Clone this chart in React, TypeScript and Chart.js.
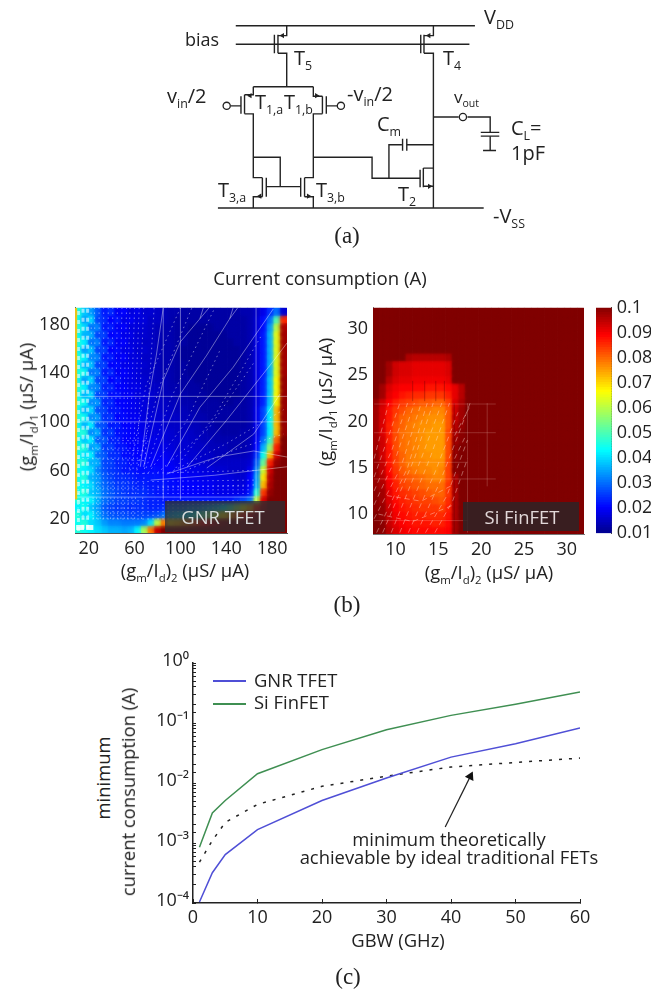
import React, { useEffect, useRef } from "react";
import Chart from "chart.js/auto";

// ---------- panel (c): minimum current consumption vs GBW ----------
const gbwGHz = [1, 3, 5, 10, 20, 30, 40, 50, 60];
const gnrCurrent = [1.04e-4, 3.2e-4, 6.4e-4, 1.67e-3, 5.1e-3, 1.21e-2, 2.7e-2, 4.5e-2, 8.3e-2];
const finfetCurrent = [8.5e-4, 3.16e-3, 5.1e-3, 1.43e-2, 3.6e-2, 7.7e-2, 0.134, 0.205, 0.329];
const idealCurrent = [4.8e-4, 1.1e-3, 2.2e-3, 4.4e-3, 8.8e-3, 1.3e-2, 1.85e-2, 2.2e-2, 2.6e-2];
const gbwTicks = [0, 10, 20, 30, 40, 50, 60];
const powerLabels: Record<string, string> = { "0": "10⁰", "-1": "10⁻¹", "-2": "10⁻²", "-3": "10⁻³", "-4": "10⁻⁴" };
const arrowLine = [{ x: 39.1, y: 1.85e-3 }, { x: 43, y: 1.29e-2 }];

// ---------- panel (b): heat maps, values in mA (columns left to right, rows top to bottom) ----------
const gnrRows = [
  [46,38,34,28,22,24,19,20,17,18,16,16,15,14,13,13,12,12,12,12,12,12,12,12,12,13,13,15,18,24,30,16],
  [44,34,40,26,24,20,22,18,19,17,17,15,15,14,13,12,12,12,12,12,12,12,12,12,12,12,13,16,21,30,50,85],
  [46,40,30,32,22,23,19,20,17,17,16,15,14,13,13,12,12,11,11,11,11,12,12,12,12,12,13,16,21,34,60,96],
  [44,36,36,26,26,20,21,18,18,16,16,15,14,13,13,12,12,11,11,11,11,11,11,12,12,12,13,17,22,36,64,97],
  [46,42,30,32,22,24,19,20,17,17,15,15,14,13,13,12,12,11,11,11,11,11,11,11,12,12,13,17,22,36,64,97],
  [44,34,38,26,26,20,21,18,18,16,16,15,14,13,13,12,11,11,11,11,11,11,11,11,11,12,13,17,22,36,64,97],
  [46,42,32,32,22,23,19,20,17,17,15,15,14,13,13,12,11,11,11,11,11,11,11,11,11,12,13,17,22,36,64,97],
  [44,36,38,26,26,20,21,18,18,17,16,15,14,13,13,12,12,11,11,11,11,11,11,11,11,12,13,17,22,36,64,97],
  [46,44,30,32,22,24,19,20,18,17,15,15,14,13,13,12,12,11,11,11,11,11,11,11,11,12,13,17,22,36,64,97],
  [44,34,40,26,26,20,22,19,18,17,16,15,14,14,13,12,12,12,11,11,11,11,11,11,11,12,13,17,23,38,66,98],
  [46,42,32,32,23,24,20,20,18,18,16,15,15,14,13,13,12,12,12,11,11,11,11,11,11,12,13,17,23,38,66,98],
  [44,36,40,26,26,21,22,19,19,17,17,16,15,14,14,13,13,12,12,12,11,11,11,11,11,12,13,17,23,38,66,98],
  [46,44,32,34,23,24,20,20,19,18,17,16,15,15,14,14,13,13,12,12,12,12,11,11,12,12,13,17,23,38,66,98],
  [44,36,40,27,26,22,22,20,19,18,17,16,16,15,15,14,14,13,13,12,12,12,12,12,12,12,13,18,26,42,72,98],
  [46,44,32,34,24,25,20,21,19,19,17,17,16,16,15,15,14,14,13,13,12,12,12,12,12,12,13,18,26,42,72,98],
  [44,36,42,28,27,22,23,20,20,18,18,17,17,16,15,15,15,14,14,13,13,12,12,12,12,12,13,18,26,42,72,98],
  [46,46,32,36,24,26,21,21,20,19,18,17,17,17,16,15,15,15,14,14,13,13,12,12,12,13,13,18,26,42,72,98],
  [44,38,42,28,28,23,23,20,20,19,19,18,18,17,16,16,16,15,15,14,14,13,13,13,13,13,14,19,30,48,80,100],
  [46,46,34,36,25,26,22,22,20,20,19,18,18,18,17,16,16,16,15,15,14,14,14,13,13,13,14,20,36,56,86,100],
  [44,40,42,30,28,24,24,21,21,20,20,19,19,19,18,17,17,16,16,15,15,14,14,14,14,14,15,24,44,72,93,100],
  [46,46,36,36,26,26,23,23,21,21,21,20,20,20,19,18,18,17,16,16,15,15,15,15,15,15,16,28,52,86,98,100],
  [44,42,40,32,27,25,24,22,22,21,21,21,21,20,20,19,19,18,18,17,17,16,16,15,15,15,18,32,62,93,100,100],
  [44,46,36,34,28,26,24,24,23,22,22,22,22,21,21,20,20,19,19,18,18,18,17,17,16,16,20,34,68,95,100,100],
  [44,42,40,34,29,27,25,25,24,23,23,22,22,22,21,21,20,20,20,19,19,18,18,18,17,17,20,36,72,96,100,100],
  [44,46,38,36,30,28,26,25,24,24,24,23,22,22,21,21,20,20,20,19,19,18,18,18,18,18,22,46,84,98,100,100],
  [46,42,42,36,30,28,26,26,25,25,24,23,23,22,22,22,22,22,22,22,22,22,22,22,24,26,30,60,92,100,100,100],
  [42,44,38,34,28,26,25,25,24,24,24,23,23,24,30,30,30,32,32,34,36,38,42,48,56,64,72,86,96,100,100,100],
  [46,40,42,36,30,28,27,27,26,26,26,26,27,30,36,38,40,42,46,50,56,62,68,74,80,86,92,98,100,100,100,100],
  [44,46,40,38,34,32,32,31,31,31,32,40,60,78,70,72,76,80,84,88,92,96,98,100,100,100,100,100,100,100,100,100],
  [46,44,42,40,38,36,36,35,36,42,58,78,94,100,100,100,100,100,100,100,100,100,100,100,100,100,100,100,100,100,100,100],
];
// Si FinFET: only the first 15 columns differ from the flat 100 mA background
const siBackground = 100;
const siColumnCount = 32;
const siRows = [
  [100,100,100,100,100,100,100,100,100,100,100,100,100,100,100],
  [100,100,100,100,100,100,100,100,100,100,100,100,100,100,100],
  [100,100,100,100,100,100,100,100,100,100,100,100,100,100,100],
  [100,100,100,100,100,100,100,100,100,100,100,100,100,100,100],
  [100,100,100,100,100,100,100,100,100,100,100,100,100,100,100],
  [100,100,100,100,100,100,100,100,100,100,100,100,100,100,100],
  [100,100,100,100,100,96,95,95,95,95,95,96,100,100,100],
  [100,100,97,93,92,92,91,91,91,91,91,92,100,100,100],
  [100,100,97,93,92,92,91,91,91,91,91,92,100,100,100],
  [100,100,95,92,91,91,90,90,90,90,90,91,100,100,100],
  [100,97,92,90,89,89,88,88,87,87,87,88,91,95,100],
  [100,97,91,89,87,86,85,85,84,84,84,86,91,95,100],
  [98,93,89,86,84,83,82,81,81,80,80,83,92,96,100],
  [97,92,87,84,82,80,79,78,78,77,77,81,93,97,100],
  [97,92,87,83,80,79,78,77,76,76,76,81,94,97,100],
  [97,92,86,82,80,78,77,76,76,75,75,81,95,98,100],
  [97,92,86,82,79,78,77,76,75,75,75,82,96,99,100],
  [97,93,86,82,79,78,77,76,75,75,75,82,97,99,100],
  [97,93,87,82,79,78,77,76,75,75,75,82,98,100,100],
  [98,93,87,83,80,78,77,76,76,75,75,82,98,100,100],
  [98,94,87,83,80,78,77,77,76,76,76,83,99,100,100],
  [98,94,88,84,81,79,78,77,77,76,77,83,99,100,100],
  [98,95,89,85,82,81,80,79,78,77,77,83,96,100,100],
  [98,96,90,86,83,82,81,80,79,79,79,84,96,100,100],
  [99,97,91,87,85,84,83,82,81,80,80,84,96,100,100],
  [99,97,92,88,86,85,84,83,83,82,81,85,96,100,100],
  [99,98,93,89,87,86,85,84,84,84,83,86,96,100,100],
  [100,98,94,90,88,87,86,86,85,85,85,87,96,100,100],
  [100,99,94,91,89,88,87,87,87,86,86,88,97,100,100],
  [100,99,95,92,90,89,88,88,88,88,88,89,97,100,100],
];
const gnrTicks = [20, 60, 100, 140, 180];
const siTicksX = [10, 15, 20, 25, 30];
const siTicksY = [10, 15, 20, 25, 30];
const colorbarTicks = [0.01, 0.02, 0.03, 0.04, 0.05, 0.06, 0.07, 0.08, 0.09, 0.1];

type P = [number, number];
// pale simulation mesh visible on the maps (data units)
const gnrMeshSolid: P[][] = [
  [[65,63],[73,123],[79,155],[85,194]],
  [[68,63],[85,134],[100,166],[117,185],[125,194]],
  [[74,63],[100,123],[123,155],[143,185],[150,194]],
  [[88,63],[117,112],[146,145],[181,193]],
  [[106,63],[140,101],[181,150],[193,165]],
  [[123,62],[164,90],[187,123]],
  [[88,57],[132,71],[164,76],[193,71]],
  [[74,52],[130,56],[193,63]],
  [[8,121],[193,121]],
  [[8,100],[193,100]],
  [[8,38],[165,38]],
  [[100,36],[100,194]],
  [[166,34],[166,194]],
  [[85,36],[85,194]],
  [[117,185],[120,194]],
  [[143,185],[146,194]],
];
const gnrMeshDotted: P[][] = [
  [[24,20],[22,194]], [[30,20],[29,194]], [[36,20],[37,194]], [[42,20],[45,194]],
  [[48,20],[53,194]], [[54,20],[60,194]], [[60,20],[68,194]], [[66,20],[77,194]],
  [[27,20],[25,194]], [[33,20],[33,194]], [[39,20],[41,194]], [[45,20],[49,194]], [[51,20],[56,194]], [[57,20],[64,194]],
  [[56,60],[70,130],[100,194]], [[62,60],[82,130],[110,194]], [[72,58],[105,100],[135,160]],
  [[80,58],[125,95],[165,150]], [[90,58],[140,82],[190,110]], [[100,58],[150,78],[190,90]],
  [[70,62],[92,120],[130,194]], [[96,62],[130,105],[170,170]],
  [[10,20],[120,20]], [[10,23],[125,23]], [[10,26],[130,26]], [[10,29],[135,29]], [[10,32],[140,32]], [[10,35],[150,35]],
  [[10,41],[160,41]], [[10,44],[160,44]], [[10,47],[160,47]],
  [[10,50],[165,52]], [[10,56],[165,60]], [[80,46],[165,48]], [[10,70],[70,68]], [[10,78],[70,76]], [[10,86],[72,84]],
];
const gnrChecks: P[][] = [
  [[11,10],[11,194]], [[15,12],[15,194]], [[19,12],[19,194]],
];
const gnrWhiteCorner: P[][] = [
  [[9,13],[24,13]],
];
const gnrYellowEdge: P[][] = [[[8.8,36],[8.8,194]]];
const siMeshDiagonal: P[][] = [
  [[7.5,9.5],[10.6,15],[13,22]],
  [[7.5,11],[10,16],[12.2,22]],
  [[7.5,12.5],[9.6,17],[11.4,22]],
  [[7.5,14],[9.4,19],[10.5,22]],
  [[7.5,16],[9.2,22]],
  [[7.8,8],[11.4,15],[13.7,22]],
  [[8.5,8],[12.2,16],[14.4,22]],
  [[9.5,8],[13,16],[15.4,22]],
  [[10.5,8],[14,16],[16.3,22]],
  [[11.5,8],[14.6,14.5],[17.3,21]],
  [[12.5,8],[15.2,13.5],[17.5,19],[18.7,22]],
  [[13.5,8],[16,12],[18.4,18]],
  [[14.6,8],[16.7,11.5],[18.4,16]],
  [[8,10],[12,9.2],[16.8,11]],
  [[9,12],[13,11.4],[16.8,13.2]],
  [[16.9,16],[18.2,18.5]],
  [[16.9,18.5],[18.6,21.5]],
];
const siMeshGrid: P[][] = [
  [[7.5,21.9],[21.7,21.9]],
  [[7.5,18.8],[21.7,18.8]],
  [[7.5,15.6],[18.4,15.6]],
  [[7.5,13.8],[21.7,13.8]],
  [[7.5,9.3],[18.4,9.3]],
  [[18.4,8],[18.4,22]],
  [[20.7,13],[20.7,22]],
];
const siMeshDark: P[][] = [
  [[12,22.2],[12,24.4]], [[13.4,22.2],[13.4,24.4]], [[14.7,22.2],[14.7,24.4]], [[15.7,22.2],[15.7,24.4]],
  [[16.85,8],[16.85,22]],
];

// ---------- panel (a): circuit diagram, in a 1200 x 750 drawing space ----------
const wires: P[][] = [
  [[248,64],[985,64]],
  [[248,122],[968,122]],
  [[367,92],[367,150]], [[378,92],[378,150]],
  [[378,95],[405,95],[405,64]], [[378,150],[405,150],[405,255]],
  [[818,92],[818,150]], [[828,92],[828,150]],
  [[828,95],[857,95],[857,64]], [[828,150],[857,150],[857,635]],
  [[816,515],[816,570]], [[826,510],[826,570]],
  [[826,510],[857,510]], [[826,567],[857,567]],
  [[486,476],[668,476],[668,542],[816,542]],
  [[720,542],[720,437],[760,437]],
  [[762,418],[762,456]], [[775,418],[775,456]], [[775,437],[857,437]],
  [[857,350],[935,350]], [[962,350],[1032,350],[1032,398]],
  [[1003,398],[1060,398]], [[1003,410],[1060,410]],
  [[1032,410],[1032,455]], [[1010,455],[1050,455]],
  [[193,635],[1012,635]],
  [[302,255],[487,255]],
  [[302,255],[302,280],[275,280]], [[275,280],[275,340]], [[264,285],[264,340]],
  [[275,340],[302,340],[302,540],[330,540]], [[232,315],[264,315]],
  [[487,255],[487,285],[515,285]], [[515,285],[515,340]], [[527,285],[527,340]],
  [[515,340],[487,340],[487,540],[460,540]], [[527,315],[560,315]],
  [[330,540],[330,600]], [[342,540],[342,600]], [[330,600],[302,600],[302,635]],
  [[460,540],[460,600]], [[448,540],[448,600]], [[460,600],[487,600],[487,635]],
  [[342,568],[448,568]],
  [[302,476],[385,476],[385,568]],
];
const terminals: P[] = [[220,315],[572,315],[948,350]];
const arrowsLeft: P[] = [[392,95],[843,95],[292,283],[322,598]];
const arrowsRight: P[] = [[497,283],[472,598],[845,567]];

const INK = "#222";
const FONT = "'Open Sans', sans-serif";

function jet(mA: number): string {
  const t = Math.min(1, Math.max(0, (mA - 10) / 90));
  const stops: [number, number, number, number][] = [
    [0, 0, 0, 143], [0.11, 0, 0, 255], [0.365, 0, 255, 255], [0.625, 255, 255, 0], [0.875, 255, 0, 0], [1, 128, 0, 0],
  ];
  for (let i = 1; i < stops.length; i++) {
    if (t <= stops[i][0]) {
      const a = stops[i - 1], b = stops[i];
      const f = (t - a[0]) / (b[0] - a[0]);
      return `rgb(${Math.round(a[1] + f * (b[1] - a[1]))},${Math.round(a[2] + f * (b[2] - a[2]))},${Math.round(a[3] + f * (b[3] - a[3]))})`;
    }
  }
  return "rgb(128,0,0)";
}

const blurPlugin = {
  id: "cellBlur",
  beforeDatasetDraw(chart: any, args: any) {
    const b = (chart.data.datasets[args.index] as any).blurPx;
    if (b) chart.ctx.filter = `blur(${b}px)`;
  },
  afterDatasetDraw(chart: any) {
    chart.ctx.filter = "none";
  },
};

function heatDatasets(rows: number[][], x0: number, x1: number, y0: number, y1: number, blur: number) {
  const nCols = rows[0].length;
  const dx = (x1 - x0) / nCols;
  const dy = (y1 - y0) / rows.length;
  const make = (blurPx: number, order: number) =>
    rows.map((row, r) => ({
      type: "bar" as const,
      blurPx,
      order,
      data: row.map((_, c) => ({ x: x0 + dx * (c + 0.5), y: [y1 - dy * (r + 1.05), y1 - dy * (r - 0.05)] })),
      backgroundColor: row.map((v) => jet(v)),
      barPercentage: 1.08,
      categoryPercentage: 1,
      grouped: false,
      borderWidth: 0,
    }));
  return [...make(0, 4), ...make(blur, 3)];
}

function lineSets(lines: P[][], color: string, width: number, dash: number[] = [], order = 1) {
  return lines.map((pts) => ({
    type: "scatter" as const,
    order,
    data: pts.map(([x, y]) => ({ x, y })),
    showLine: true,
    borderColor: color,
    borderWidth: width,
    borderDash: dash,
    pointRadius: 0,
    tension: 0,
  }));
}

const tickFont = { family: FONT, size: 18 };

function fixedSize(size: number, side: "x" | "y") {
  return (s: any) => {
    if (side === "x") s.height = size;
    else s.width = size;
  };
}

function linearAxis(min: number, max: number, values: number[], side: "x" | "y", size: number, border = "#555") {
  return {
    type: "linear",
    min,
    max,
    offset: false,
    position: side === "x" ? "bottom" : "left",
    afterBuildTicks: (s: any) => {
      s.ticks = values.map((value) => ({ value }));
    },
    afterFit: fixedSize(size, side),
    grid: { display: true, drawOnChartArea: false, drawTicks: false },
    border: { display: true, color: border, width: 1 },
    ticks: { color: INK, font: tickFont, padding: side === "x" ? 5 : 5, autoSkip: false, maxRotation: 0, minRotation: 0 },
  };
}

const base = {
  responsive: false,
  animation: false as const,
  devicePixelRatio: 1,
  events: [] as string[],
  plugins: { legend: { display: false }, tooltip: { enabled: false } },
};

// plot box in page pixels, with a margin of canvas round it for the tick labels: the axes fill left and bottom
function box(l: number, t: number, r: number, b: number, m: [number, number, number, number]) {
  return {
    style: { position: "absolute" as const, left: l - m[0], top: t - m[1] },
    width: r - l + m[0] + m[2],
    height: b - t + m[1] + m[3],
    m,
    padding: { left: 0, top: m[1], right: m[2], bottom: 0 },
  };
}

const boxes = {
  circuit: box(150, 0, 550, 250, [0, 0, 0, 0]),
  gnr: box(74.7, 306, 287, 533.3, [60, 14, 20, 34]),
  si: box(373.3, 306, 585.3, 534, [50, 14, 9, 34]),
  bar: box(595.7, 306, 611.7, 535, [3, 14, 39.3, 14]),
  lines: box(193.3, 662.7, 580.7, 902.7, [60, 22, 40, 34]),
};

function Sub({ children }: { children: React.ReactNode }) {
  return <span style={{ fontSize: "0.62em", position: "relative", top: "0.42em", lineHeight: 0 }}>{children}</span>;
}

function Txt(p: {
  x: number; y: number; size?: number; center?: boolean; rotate?: boolean; color?: string; serif?: boolean; children: React.ReactNode;
}) {
  const tr = [p.center || p.rotate ? "translateX(-50%)" : "", "translateY(-50%)", p.rotate ? "rotate(-90deg)" : ""].join(" ");
  return (
    <div
      style={{
        position: "absolute", left: p.x, top: p.y, transform: tr, whiteSpace: "nowrap", lineHeight: 1.1,
        fontFamily: p.serif ? "'Liberation Serif', serif" : FONT, fontSize: p.size ?? 18.4, color: p.color ?? INK,
      }}
    >
      {p.children}
    </div>
  );
}

function GmId({ n }: { n: string }) {
  return (
    <>
      (g<Sub>m</Sub>/I<Sub>d</Sub>)<Sub>{n}</Sub> (μS/ μA)
    </>
  );
}

export default function App() {
  const circuitRef = useRef<HTMLCanvasElement>(null);
  const gnrRef = useRef<HTMLCanvasElement>(null);
  const siRef = useRef<HTMLCanvasElement>(null);
  const barRef = useRef<HTMLCanvasElement>(null);
  const linesRef = useRef<HTMLCanvasElement>(null);

  useEffect(() => {
    document.body.style.margin = "0";
    document.body.style.background = "#fff";
    const charts: Chart[] = [];

    charts.push(
      new Chart(circuitRef.current!, {
        type: "scatter",
        data: {
          datasets: [
            ...lineSets(wires, INK, 1.4),
            { data: terminals.map(([x, y]) => ({ x, y })), pointStyle: "circle", pointRadius: 3.6, pointBackgroundColor: "#fff", pointBorderColor: INK, pointBorderWidth: 1.3, order: 0 },
            { data: arrowsLeft.map(([x, y]) => ({ x, y })), pointStyle: "triangle", pointRotation: -90, pointRadius: 3, pointBackgroundColor: INK, pointBorderWidth: 0, order: 0 },
            { data: arrowsRight.map(([x, y]) => ({ x, y })), pointStyle: "triangle", pointRotation: 90, pointRadius: 3, pointBackgroundColor: INK, pointBorderWidth: 0, order: 0 },
          ] as any,
        },
        options: {
          ...base,
          layout: { padding: 0 },
          scales: {
            x: { type: "linear", min: 0, max: 1200, display: false },
            y: { type: "linear", min: 0, max: 750, reverse: true, display: false },
          },
        } as any,
      }),
    );

    charts.push(
      new Chart(gnrRef.current!, {
        type: "bar",
        plugins: [blurPlugin],
        data: {
          datasets: [
            ...heatDatasets(gnrRows, 8, 193, 8.4, 194, 2),
            ...lineSets(gnrYellowEdge, "rgba(255,190,0,0.9)", 2.5),
            ...lineSets(gnrMeshSolid, "rgba(255,255,255,0.4)", 1),
            ...lineSets(gnrMeshDotted, "rgba(255,255,255,0.45)", 1, [1.5, 3.5]),
            ...lineSets(gnrChecks, "rgba(255,255,255,0.55)", 3, [4, 5]),
            ...lineSets(gnrWhiteCorner, "rgba(255,255,255,0.85)", 5, [8, 2]),
          ] as any,
        },
        options: {
          ...base,
          layout: { padding: boxes.gnr.padding },
          scales: { x: linearAxis(8, 193, gnrTicks, "x", boxes.gnr.m[3]), y: linearAxis(8.4, 194, gnrTicks, "y", boxes.gnr.m[0]) },
        } as any,
      }),
    );

    charts.push(
      new Chart(siRef.current!, {
        type: "bar",
        plugins: [blurPlugin],
        data: {
          datasets: [
            ...heatDatasets(
              siRows.map((row) => [...row, ...new Array(siColumnCount - row.length).fill(siBackground)]),
              7.37, 32, 7.85, 32.3, 1.4,
            ),
            ...lineSets(siMeshDiagonal, "rgba(255,235,225,0.4)", 1, [5, 4]),
            ...lineSets(siMeshGrid, "rgba(255,225,215,0.2)", 1),
            ...lineSets(siMeshDark, "rgba(90,0,0,0.35)", 1),
          ] as any,
        },
        options: {
          ...base,
          layout: { padding: boxes.si.padding },
          scales: {
            x: linearAxis(7.37, 32, siTicksX, "x", boxes.si.m[3], "#777"),
            y: linearAxis(7.85, 32.3, siTicksY, "y", boxes.si.m[0], "#777"),
          },
        } as any,
      }),
    );

    const levels: number[] = [];
    for (let v = 10; v < 100; v += 1) levels.push(v);
    charts.push(
      new Chart(barRef.current!, {
        type: "bar",
        data: {
          datasets: levels.map((v) => ({
            data: [{ x: 0, y: [v / 1000, (v + 1.2) / 1000] }],
            backgroundColor: jet(v + 0.5),
            barPercentage: 1,
            categoryPercentage: 1,
            grouped: false,
            borderWidth: 0,
          })) as any,
        },
        options: {
          ...base,
          layout: { padding: { left: boxes.bar.m[0], top: boxes.bar.m[1], right: 0, bottom: boxes.bar.m[3] } },
          scales: {
            x: { type: "linear", min: -0.5, max: 0.5, offset: false, display: false },
            y: {
              ...linearAxis(0.01, 0.1, colorbarTicks, "y", boxes.bar.m[2], "#444"),
              position: "right",
              ticks: { color: INK, font: tickFont, padding: 5, autoSkip: false, callback: (v: number) => String(Math.round(v * 100) / 100) },
            },
          },
        } as any,
      }),
    );

    charts.push(
      new Chart(linesRef.current!, {
        type: "scatter",
        data: {
          datasets: [
            { label: "GNR TFET", data: gbwGHz.map((x, i) => ({ x, y: gnrCurrent[i] })), showLine: true, borderColor: "#4f4fd6", borderWidth: 1.5, pointRadius: 0 },
            { label: "Si FinFET", data: gbwGHz.map((x, i) => ({ x, y: finfetCurrent[i] })), showLine: true, borderColor: "#3f8f52", borderWidth: 1.5, pointRadius: 0 },
            { label: "ideal traditional FETs", data: gbwGHz.map((x, i) => ({ x, y: idealCurrent[i] })), showLine: true, borderColor: "#222", borderWidth: 1.5, borderDash: [3, 7], pointRadius: 0 },
            { label: "arrow", data: arrowLine, showLine: true, borderColor: "#222", borderWidth: 1.2, pointStyle: "triangle", pointRotation: 26, pointRadius: [0, 5.5], pointBackgroundColor: "#111", pointBorderWidth: 0 },
          ] as any,
        },
        options: {
          ...base,
          layout: { padding: boxes.lines.padding },
          scales: {
            x: {
              ...linearAxis(0, 60, gbwTicks, "x", boxes.lines.m[3], INK),
              border: { display: true, color: INK, width: 1.5 },
              grid: { display: true, drawOnChartArea: false, drawTicks: true, tickLength: -4, tickColor: INK },
              ticks: { color: INK, font: tickFont, padding: 8, autoSkip: false, maxRotation: 0, minRotation: 0 },
            },
            y: {
              type: "logarithmic",
              min: 1e-4,
              max: 1,
              position: "left",
              afterFit: fixedSize(boxes.lines.m[0], "y"),
              grid: { display: true, drawOnChartArea: false, drawTicks: true, tickLength: -3, tickColor: INK },
              border: { display: true, color: INK, width: 1.5 },
              ticks: {
                color: INK,
                font: tickFont,
                padding: 7,
                labelOffset: -2,
                autoSkip: false,
                callback: (v: number) => {
                  const e = Math.log10(v);
                  return Math.abs(e - Math.round(e)) < 1e-6 ? powerLabels[String(Math.round(e))] : "";
                },
              },
            },
          },
        } as any,
      }),
    );

    return () => charts.forEach((c) => c.destroy());
  }, []);

  const cv = (b: any, ref: any) => <canvas ref={ref} width={b.width} height={b.height} style={b.style} />;

  return (
    <div style={{ position: "absolute", left: 0, top: 0, width: 651, height: 993, overflow: "hidden", background: "#fff", filter: "blur(0.55px)" }}>
      {cv(boxes.circuit, circuitRef)}
      {cv(boxes.gnr, gnrRef)}
      {cv(boxes.si, siRef)}
      {cv(boxes.bar, barRef)}
      {cv(boxes.lines, linesRef)}

      {/* panel (a) labels */}
      <Txt x={185} y={40} size={18}>bias</Txt>
      <Txt x={484} y={17} size={20}>V<Sub>DD</Sub></Txt>
      <Txt x={294} y={58} size={20}>T<Sub>5</Sub></Txt>
      <Txt x={443} y={58} size={20}>T<Sub>4</Sub></Txt>
      <Txt x={255} y={102} size={20}>T<Sub>1,a</Sub></Txt>
      <Txt x={284} y={102} size={20}>T<Sub>1,b</Sub></Txt>
      <Txt x={167} y={96} size={20}>v<Sub>in</Sub>/2</Txt>
      <Txt x={347} y={94} size={20}>-v<Sub>in</Sub>/2</Txt>
      <Txt x={454} y={97} size={17}>v<Sub>out</Sub></Txt>
      <Txt x={377} y={124} size={20}>C<Sub>m</Sub></Txt>
      <Txt x={511} y={128} size={20}>C<Sub>L</Sub>=</Txt>
      <Txt x={511} y={153} size={20}>1pF</Txt>
      <Txt x={218} y={190} size={20}>T<Sub>3,a</Sub></Txt>
      <Txt x={316} y={190} size={20}>T<Sub>3,b</Sub></Txt>
      <Txt x={398} y={194} size={20}>T<Sub>2</Sub></Txt>
      <Txt x={493} y={216} size={20}>-V<Sub>SS</Sub></Txt>
      <Txt x={347} y={236} size={23} center serif>(a)</Txt>

      {/* panel (b) labels */}
      <Txt x={320} y={278} size={18.6} center>Current consumption (A)</Txt>
      <Txt x={185} y={570} center><GmId n="2" /></Txt>
      <Txt x={26} y={407} rotate><GmId n="1" /></Txt>
      <Txt x={489} y={572} center><GmId n="2" /></Txt>
      <Txt x={325} y={402} rotate><GmId n="1" /></Txt>
      <div style={{ position: "absolute", left: 165, top: 501, width: 120, height: 31, background: "rgba(45,45,50,0.78)" }} />
      <Txt x={223} y={517} center color="#d8dcdc">GNR TFET</Txt>
      <div style={{ position: "absolute", left: 463, top: 502, width: 116, height: 29, background: "rgba(45,35,38,0.85)" }} />
      <Txt x={522} y={517} center color="#e2d8d8">Si FinFET</Txt>
      <Txt x={347} y={605} size={23} center serif>(b)</Txt>

      {/* panel (c) labels */}
      <div style={{ position: "absolute", left: 213, top: 680, width: 33, height: 1.5, background: "#4f4fd6" }} />
      <div style={{ position: "absolute", left: 213, top: 703, width: 33, height: 1.5, background: "#3f8f52" }} />
      <Txt x={254} y={680}>GNR TFET</Txt>
      <Txt x={254} y={702}>Si FinFET</Txt>
      <Txt x={103} y={778} rotate>minimum</Txt>
      <Txt x={128} y={792} rotate>current consumption (A)</Txt>
      <Txt x={449} y={839} center>minimum theoretically</Txt>
      <Txt x={449} y={857} center>achievable by ideal traditional FETs</Txt>
      <Txt x={398} y={940} center>GBW (GHz)</Txt>
      <Txt x={348} y={977} size={23} center serif>(c)</Txt>
    </div>
  );
}
